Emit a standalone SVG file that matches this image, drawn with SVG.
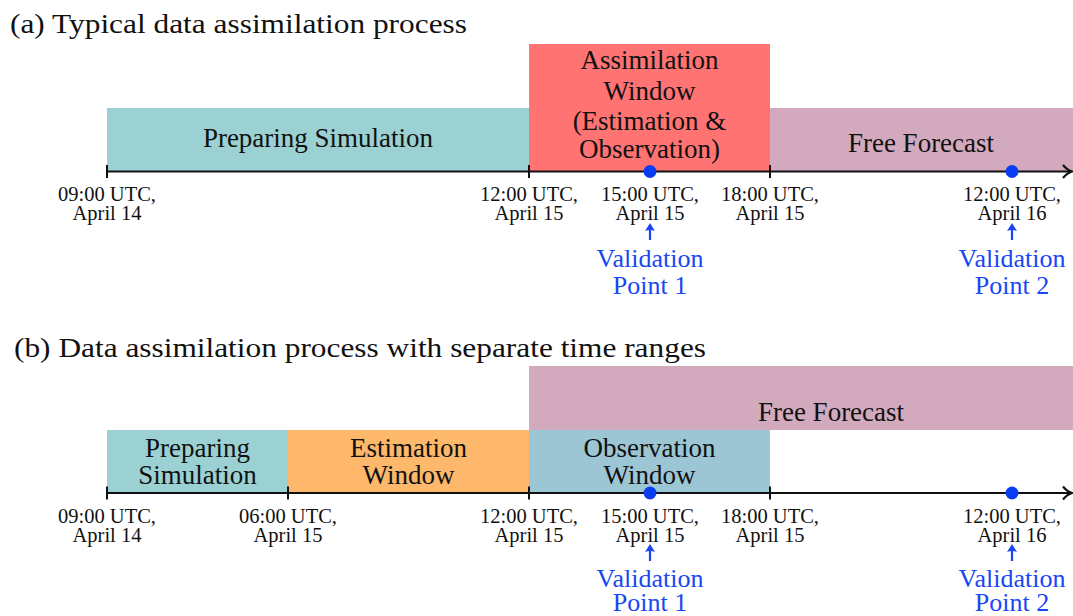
<svg xmlns="http://www.w3.org/2000/svg" width="1073" height="616" viewBox="0 0 1073 616">
<style>
text{font-family:"Liberation Serif","DejaVu Serif",serif;fill:#111}
.title{font-size:28px}
.box{font-size:27px;text-anchor:middle}
.ts{font-size:20.5px;text-anchor:middle}
.val{font-size:26px;text-anchor:middle;fill:#1846f5}
.axis{stroke:#111;stroke-width:2.2;fill:none}
.tick{stroke:#111;stroke-width:2}
.varrow{stroke:#1846f5;stroke-width:2.2;fill:none}
.vhead{fill:#1846f5}
.dot{fill:#0a3cf2}
</style>
<rect width="1073" height="616" fill="#fff"/>

<text class="title" x="10" y="33" textLength="457" lengthAdjust="spacingAndGlyphs">(a) Typical data assimilation process</text>
<text class="title" x="14" y="357" textLength="692" lengthAdjust="spacingAndGlyphs">(b) Data assimilation process with separate time ranges</text>

<!-- Panel (a) nodes -->
<g id="a-preparing">
<rect x="107" y="108" width="422" height="63" fill="#9bd1d3"/>
<text class="box" x="318" y="147">Preparing Simulation</text>
</g>
<g id="a-assimilation">
<rect x="529" y="44" width="241" height="127" fill="#ff7373"/>
<text class="box" x="649.5" y="69">Assimilation</text>
<text class="box" x="649.5" y="100">Window</text>
<text class="box" x="649.5" y="130">(Estimation &amp;</text>
<text class="box" x="649.5" y="158">Observation)</text>
</g>
<g id="a-forecast">
<rect x="770" y="108" width="303" height="63" fill="#d3a9be"/>
<text class="box" x="921" y="152">Free Forecast</text>
</g>

<!-- Panel (b) nodes -->
<g id="b-forecast">
<rect x="529" y="366" width="544" height="64" fill="#d3a9be"/>
<text class="box" x="831" y="421">Free Forecast</text>
</g>
<g id="b-preparing">
<rect x="107" y="430" width="181" height="63" fill="#9bd1d3"/>
<text class="box" x="197.5" y="457">Preparing</text>
<text class="box" x="197.5" y="484">Simulation</text>
</g>
<g id="b-estimation">
<rect x="288" y="430" width="241" height="63" fill="#fdb86b"/>
<text class="box" x="408.5" y="457">Estimation</text>
<text class="box" x="408.5" y="484">Window</text>
</g>
<g id="b-observation">
<rect x="529" y="430" width="241" height="63" fill="#9dc6d5"/>
<text class="box" x="649.5" y="457">Observation</text>
<text class="box" x="649.5" y="484">Window</text>
</g>

<!-- connectors: axes, ticks, validation arrows -->
<g id="connectors">
<line class="axis" x1="107" y1="171.5" x2="1071" y2="171.5"/>
<path class="axis" d="M1063,165 Q1067,170 1072,171.5 Q1067,173 1063,178"/>
<line class="tick" x1="107" y1="165" x2="107" y2="178"/>
<line class="tick" x1="529" y1="165" x2="529" y2="178"/>
<line class="tick" x1="770" y1="165" x2="770" y2="178"/>

<line class="axis" x1="107" y1="493" x2="1071" y2="493"/>
<path class="axis" d="M1063,486.5 Q1067,491.5 1072,493 Q1067,494.5 1063,499.5"/>
<line class="tick" x1="107" y1="486.5" x2="107" y2="499.5"/>
<line class="tick" x1="288" y1="486.5" x2="288" y2="499.5"/>
<line class="tick" x1="529" y1="486.5" x2="529" y2="499.5"/>
<line class="tick" x1="770" y1="486.5" x2="770" y2="499.5"/>

<line class="varrow" x1="650" y1="240" x2="650" y2="229"/>
<path class="vhead" d="M645,231 L650,223 L655,231 Q650,229 645,231 Z"/>
<line class="varrow" x1="1012" y1="240" x2="1012" y2="229"/>
<path class="vhead" d="M1007,231 L1012,223 L1017,231 Q1012,229 1007,231 Z"/>
<line class="varrow" x1="650" y1="561" x2="650" y2="550"/>
<path class="vhead" d="M645,552 L650,544 L655,552 Q650,550 645,552 Z"/>
<line class="varrow" x1="1012" y1="561" x2="1012" y2="550"/>
<path class="vhead" d="M1007,552 L1012,544 L1017,552 Q1012,550 1007,552 Z"/>
</g>

<g id="a-dots">
<circle class="dot" cx="650" cy="171.5" r="6.5"/>
<circle class="dot" cx="1012" cy="171.5" r="6.5"/>
</g>
<g id="b-dots">
<circle class="dot" cx="650" cy="493" r="6.5"/>
<circle class="dot" cx="1012" cy="493" r="6.5"/>
</g>

<g id="a-labels">
<text class="ts" x="107" y="201">09:00 UTC,</text><text class="ts" x="107" y="220">April 14</text>
<text class="ts" x="529" y="201">12:00 UTC,</text><text class="ts" x="529" y="220">April 15</text>
<text class="ts" x="650" y="201">15:00 UTC,</text><text class="ts" x="650" y="220">April 15</text>
<text class="ts" x="770" y="201">18:00 UTC,</text><text class="ts" x="770" y="220">April 15</text>
<text class="ts" x="1012" y="201">12:00 UTC,</text><text class="ts" x="1012" y="220">April 16</text>
</g>
<g id="a-validation">
<text class="val" x="650" y="267">Validation</text><text class="val" x="650" y="294">Point 1</text>
<text class="val" x="1012" y="267">Validation</text><text class="val" x="1012" y="294">Point 2</text>
</g>

<g id="b-labels">
<text class="ts" x="107" y="523">09:00 UTC,</text><text class="ts" x="107" y="542">April 14</text>
<text class="ts" x="288" y="523">06:00 UTC,</text><text class="ts" x="288" y="542">April 15</text>
<text class="ts" x="529" y="523">12:00 UTC,</text><text class="ts" x="529" y="542">April 15</text>
<text class="ts" x="650" y="523">15:00 UTC,</text><text class="ts" x="650" y="542">April 15</text>
<text class="ts" x="770" y="523">18:00 UTC,</text><text class="ts" x="770" y="542">April 15</text>
<text class="ts" x="1012" y="523">12:00 UTC,</text><text class="ts" x="1012" y="542">April 16</text>
</g>
<g id="b-validation">
<text class="val" x="650" y="587">Validation</text><text class="val" x="650" y="611">Point 1</text>
<text class="val" x="1012" y="587">Validation</text><text class="val" x="1012" y="611">Point 2</text>
</g>
</svg>
